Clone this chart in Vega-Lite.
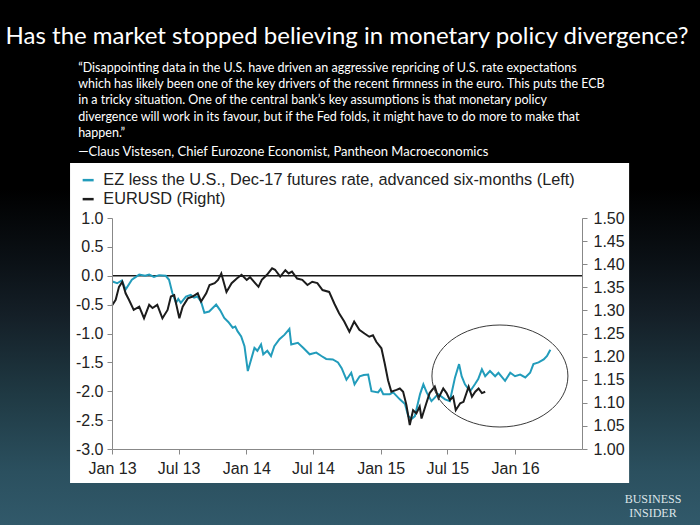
{
  "$schema": "https://vega.github.io/schema/vega-lite/v6.json",
  "width": 470,
  "height": 231,
  "autosize": {"type": "none"},
  "padding": {"left": 112, "top": 218, "right": 118, "bottom": 76},
  "background": "#000000",
  "title": {
    "text": "Has the market stopped believing in monetary policy divergence?",
    "color": "#ffffff",
    "font": "Lato",
    "fontSize": 24,
    "fontWeight": "normal",
    "anchor": "middle",
    "frame": "group",
    "baseline": "middle",
    "offset": -61,
    "zindex": 1
  },
  "data": {"values": [{}]},
  "datasets": {
    "ez": [
      {"date": "2013-01-02", "value": -0.10},
      {"date": "2013-01-15", "value": -0.13},
      {"date": "2013-01-28", "value": -0.08},
      {"date": "2013-02-07", "value": -0.24},
      {"date": "2013-02-24", "value": -0.07},
      {"date": "2013-03-16", "value": 0.02},
      {"date": "2013-04-01", "value": 0.00},
      {"date": "2013-04-12", "value": 0.02},
      {"date": "2013-04-25", "value": -0.02},
      {"date": "2013-05-09", "value": 0.01},
      {"date": "2013-05-27", "value": 0.00},
      {"date": "2013-06-05", "value": -0.07},
      {"date": "2013-06-14", "value": -0.30},
      {"date": "2013-06-24", "value": -0.47},
      {"date": "2013-06-30", "value": -0.40},
      {"date": "2013-07-07", "value": -0.47},
      {"date": "2013-07-21", "value": -0.36},
      {"date": "2013-08-03", "value": -0.33},
      {"date": "2013-08-12", "value": -0.38},
      {"date": "2013-08-21", "value": -0.36},
      {"date": "2013-08-31", "value": -0.45},
      {"date": "2013-09-09", "value": -0.64},
      {"date": "2013-09-22", "value": -0.62},
      {"date": "2013-10-11", "value": -0.50},
      {"date": "2013-10-22", "value": -0.60},
      {"date": "2013-11-02", "value": -0.73},
      {"date": "2013-11-13", "value": -0.80},
      {"date": "2013-11-25", "value": -0.90},
      {"date": "2013-12-02", "value": -0.88},
      {"date": "2013-12-08", "value": -0.96},
      {"date": "2013-12-18", "value": -1.05},
      {"date": "2013-12-27", "value": -1.22},
      {"date": "2014-01-05", "value": -1.65},
      {"date": "2014-01-14", "value": -1.45},
      {"date": "2014-01-23", "value": -1.25},
      {"date": "2014-01-31", "value": -1.30},
      {"date": "2014-02-10", "value": -1.19},
      {"date": "2014-02-16", "value": -1.36},
      {"date": "2014-02-27", "value": -1.30},
      {"date": "2014-03-09", "value": -1.39},
      {"date": "2014-03-18", "value": -1.22},
      {"date": "2014-04-01", "value": -1.10},
      {"date": "2014-04-15", "value": -1.02},
      {"date": "2014-04-28", "value": -0.92},
      {"date": "2014-05-03", "value": -1.19},
      {"date": "2014-05-21", "value": -1.16},
      {"date": "2014-06-05", "value": -1.25},
      {"date": "2014-06-22", "value": -1.36},
      {"date": "2014-07-10", "value": -1.33},
      {"date": "2014-07-24", "value": -1.39},
      {"date": "2014-08-06", "value": -1.44},
      {"date": "2014-08-24", "value": -1.45},
      {"date": "2014-09-07", "value": -1.50},
      {"date": "2014-09-17", "value": -1.60},
      {"date": "2014-09-30", "value": -1.80},
      {"date": "2014-10-13", "value": -1.68},
      {"date": "2014-10-22", "value": -1.88},
      {"date": "2014-11-05", "value": -1.74},
      {"date": "2014-11-16", "value": -1.72},
      {"date": "2014-11-28", "value": -1.71},
      {"date": "2014-12-07", "value": -2.00},
      {"date": "2014-12-25", "value": -2.02},
      {"date": "2015-01-01", "value": -1.96},
      {"date": "2015-01-08", "value": -2.05},
      {"date": "2015-01-26", "value": -2.05},
      {"date": "2015-02-04", "value": -2.02},
      {"date": "2015-02-22", "value": -2.14},
      {"date": "2015-03-08", "value": -2.22},
      {"date": "2015-03-17", "value": -2.43},
      {"date": "2015-03-26", "value": -2.48},
      {"date": "2015-04-04", "value": -2.43},
      {"date": "2015-04-18", "value": -2.05},
      {"date": "2015-04-27", "value": -1.88},
      {"date": "2015-05-06", "value": -2.02},
      {"date": "2015-05-19", "value": -2.17},
      {"date": "2015-06-06", "value": -2.05},
      {"date": "2015-06-25", "value": -2.14},
      {"date": "2015-07-08", "value": -2.17},
      {"date": "2015-07-22", "value": -1.76},
      {"date": "2015-08-02", "value": -1.53},
      {"date": "2015-08-09", "value": -1.74},
      {"date": "2015-08-18", "value": -1.88},
      {"date": "2015-09-01", "value": -2.00},
      {"date": "2015-09-14", "value": -1.88},
      {"date": "2015-09-23", "value": -1.79},
      {"date": "2015-10-03", "value": -1.62},
      {"date": "2015-10-12", "value": -1.74},
      {"date": "2015-10-25", "value": -1.65},
      {"date": "2015-11-08", "value": -1.74},
      {"date": "2015-11-17", "value": -1.68},
      {"date": "2015-12-05", "value": -1.82},
      {"date": "2015-12-19", "value": -1.68},
      {"date": "2016-01-01", "value": -1.74},
      {"date": "2016-01-15", "value": -1.71},
      {"date": "2016-01-29", "value": -1.76},
      {"date": "2016-02-11", "value": -1.68},
      {"date": "2016-02-20", "value": -1.53},
      {"date": "2016-03-05", "value": -1.50},
      {"date": "2016-03-19", "value": -1.45},
      {"date": "2016-03-28", "value": -1.39},
      {"date": "2016-04-06", "value": -1.28}
    ],
    "eurusd": [
      {"date": "2013-01-02", "value": 1.312},
      {"date": "2013-01-11", "value": 1.323},
      {"date": "2013-01-20", "value": 1.351},
      {"date": "2013-01-29", "value": 1.362},
      {"date": "2013-02-07", "value": 1.337},
      {"date": "2013-02-16", "value": 1.323},
      {"date": "2013-03-01", "value": 1.301},
      {"date": "2013-03-16", "value": 1.308},
      {"date": "2013-03-29", "value": 1.283},
      {"date": "2013-04-12", "value": 1.312},
      {"date": "2013-04-21", "value": 1.305},
      {"date": "2013-05-04", "value": 1.312},
      {"date": "2013-05-18", "value": 1.283},
      {"date": "2013-06-01", "value": 1.301},
      {"date": "2013-06-10", "value": 1.330},
      {"date": "2013-06-19", "value": 1.333},
      {"date": "2013-07-03", "value": 1.283},
      {"date": "2013-07-12", "value": 1.308},
      {"date": "2013-07-26", "value": 1.326},
      {"date": "2013-08-08", "value": 1.330},
      {"date": "2013-08-22", "value": 1.337},
      {"date": "2013-08-31", "value": 1.319},
      {"date": "2013-09-14", "value": 1.337},
      {"date": "2013-09-23", "value": 1.355},
      {"date": "2013-10-07", "value": 1.359},
      {"date": "2013-10-16", "value": 1.366},
      {"date": "2013-10-25", "value": 1.380},
      {"date": "2013-11-08", "value": 1.340},
      {"date": "2013-11-22", "value": 1.359},
      {"date": "2013-12-06", "value": 1.369},
      {"date": "2013-12-19", "value": 1.377},
      {"date": "2014-01-02", "value": 1.366},
      {"date": "2014-01-11", "value": 1.372},
      {"date": "2014-01-25", "value": 1.359},
      {"date": "2014-02-03", "value": 1.351},
      {"date": "2014-02-12", "value": 1.366},
      {"date": "2014-02-26", "value": 1.377},
      {"date": "2014-03-12", "value": 1.391},
      {"date": "2014-03-20", "value": 1.388},
      {"date": "2014-04-03", "value": 1.373},
      {"date": "2014-04-17", "value": 1.387},
      {"date": "2014-04-26", "value": 1.380},
      {"date": "2014-05-05", "value": 1.384},
      {"date": "2014-05-19", "value": 1.369},
      {"date": "2014-06-02", "value": 1.366},
      {"date": "2014-06-16", "value": 1.355},
      {"date": "2014-06-29", "value": 1.362},
      {"date": "2014-07-13", "value": 1.359},
      {"date": "2014-07-27", "value": 1.344},
      {"date": "2014-08-14", "value": 1.340},
      {"date": "2014-08-28", "value": 1.315},
      {"date": "2014-09-10", "value": 1.294},
      {"date": "2014-09-24", "value": 1.276},
      {"date": "2014-10-08", "value": 1.254},
      {"date": "2014-10-21", "value": 1.276},
      {"date": "2014-11-04", "value": 1.258},
      {"date": "2014-11-18", "value": 1.250},
      {"date": "2014-12-01", "value": 1.243},
      {"date": "2014-12-11", "value": 1.246},
      {"date": "2014-12-20", "value": 1.232},
      {"date": "2015-01-03", "value": 1.218},
      {"date": "2015-01-12", "value": 1.185},
      {"date": "2015-01-21", "value": 1.149},
      {"date": "2015-01-30", "value": 1.124},
      {"date": "2015-02-13", "value": 1.128},
      {"date": "2015-02-22", "value": 1.131},
      {"date": "2015-03-03", "value": 1.124},
      {"date": "2015-03-12", "value": 1.095},
      {"date": "2015-03-21", "value": 1.052},
      {"date": "2015-03-30", "value": 1.084},
      {"date": "2015-04-08", "value": 1.077},
      {"date": "2015-04-17", "value": 1.092},
      {"date": "2015-04-22", "value": 1.066},
      {"date": "2015-05-05", "value": 1.099},
      {"date": "2015-05-14", "value": 1.121},
      {"date": "2015-05-28", "value": 1.135},
      {"date": "2015-06-07", "value": 1.110},
      {"date": "2015-06-20", "value": 1.131},
      {"date": "2015-06-29", "value": 1.121},
      {"date": "2015-07-08", "value": 1.106},
      {"date": "2015-07-17", "value": 1.113},
      {"date": "2015-07-24", "value": 1.084},
      {"date": "2015-08-05", "value": 1.099},
      {"date": "2015-08-14", "value": 1.102},
      {"date": "2015-08-28", "value": 1.135},
      {"date": "2015-09-06", "value": 1.113},
      {"date": "2015-09-15", "value": 1.124},
      {"date": "2015-09-24", "value": 1.131},
      {"date": "2015-10-03", "value": 1.121},
      {"date": "2015-10-12", "value": 1.124}
    ]
  },
  "layer": [
    {
      "mark": {"type": "rect", "fill": {"gradient": "linear", "x1": 0, "y1": 0, "x2": 0, "y2": 1, "stops": [
        {"offset": 0, "color": "#000000"},
        {"offset": 0.36, "color": "#000000"},
        {"offset": 0.5, "color": "#0b1116"},
        {"offset": 0.6, "color": "#141f27"},
        {"offset": 0.75, "color": "#1f3943"},
        {"offset": 0.9, "color": "#2b505f"},
        {"offset": 1, "color": "#31596a"}
      ]}},
      "encoding": {
        "x": {"datum": 1262304000000, "type": "temporal", "scale": {"type": "utc", "domain": [1356998400000, 1467331200000]}, "axis": {"title": null}},
        "x2": {"datum": 1577836800000},
        "y": {"datum": 4.775, "type": "quantitative", "scale": {"domain": [-3, 1], "nice": false, "zero": false}, "axis": null},
        "y2": {"datum": -4.316}
      }
    },
    {
      "mark": {"type": "rect", "fill": "#ffffff"},
      "encoding": {
        "x": {"datum": 1347148800000, "type": "temporal", "scale": {"type": "utc", "domain": [1356998400000, 1467331200000]}, "axis": {"title": null}},
        "x2": {"datum": 1478390400000},
        "y": {"datum": 1.952, "type": "quantitative", "scale": {"domain": [-3, 1], "nice": false, "zero": false}, "axis": null},
        "y2": {"datum": -3.589}
      }
    },
    {
      "mark": {"type": "rule", "color": "#1a1a1a", "strokeWidth": 1.5},
      "encoding": {
        "y": {"datum": 0, "type": "quantitative", "scale": {"domain": [-3, 1], "nice": false, "zero": false}, "axis": null}
      }
    },
    {
      "data": {"name": "ez"},
      "mark": {"type": "line", "strokeWidth": 2, "interpolate": "linear"},
      "encoding": {
        "x": {"field": "date", "type": "temporal",
          "scale": {"type": "utc", "domain": [1356998400000, 1467331200000]},
          "axis": {
            "title": null,
            "zindex": 2,
            "values": [1356998400000, 1364774400000, 1372636800000, 1380585600000, 1388534400000, 1396310400000, 1404172800000, 1412121600000, 1420070400000, 1427846400000, 1435708800000, 1443657600000, 1451606400000, 1459468800000],
            "labelExpr": "(utcmonth(datum.value) == 0 || utcmonth(datum.value) == 6) ? utcFormat(datum.value, '%b %y') : ''",
            "labelPadding": 6,
            "labelFlush": false,
            "labelOverlap": false
          }
        },
        "y": {"field": "value", "type": "quantitative",
          "scale": {"domain": [-3, 1], "nice": false, "zero": false},
          "axis": {"orient": "left", "title": null, "zindex": 2, "values": [-3, -2.5, -2, -1.5, -1, -0.5, 0, 0.5, 1], "format": ".1f", "labelPadding": 4}
        },
        "color": {"datum": "EZ less the U.S., Dec-17 futures rate, advanced six-months (Left)",
          "scale": {"domain": ["EZ less the U.S., Dec-17 futures rate, advanced six-months (Left)", "EURUSD (Right)"], "range": ["#229cbb", "#1c1c1c"]},
          "legend": {"orient": "none", "legendX": -32, "legendY": -46, "title": null, "labelFont": "Liberation Sans", "labelFontSize": 16.3, "labelColor": "#222222", "symbolType": "stroke", "symbolSize": 121, "symbolStrokeWidth": 2.5, "rowPadding": 2, "labelOffset": 7, "labelLimit": 700, "padding": 0, "zindex": 2}
        }
      }
    },
    {
      "data": {"name": "eurusd"},
      "mark": {"type": "line", "strokeWidth": 2, "interpolate": "linear"},
      "encoding": {
        "x": {"field": "date", "type": "temporal", "scale": {"type": "utc", "domain": [1356998400000, 1467331200000]}, "axis": {"title": null}},
        "y": {"field": "value", "type": "quantitative",
          "scale": {"domain": [1.0, 1.5], "nice": false, "zero": false},
          "axis": {"orient": "right", "title": null, "zindex": 2, "values": [1.0, 1.05, 1.1, 1.15, 1.2, 1.25, 1.3, 1.35, 1.4, 1.45, 1.5], "format": ".2f", "labelPadding": 6}
        },
        "color": {"datum": "EURUSD (Right)"}
      }
    },
    {
      "mark": {"type": "point", "shape": "M -1 0 C -1 -0.4142 -0.5523 -0.75 0 -0.75 C 0.5523 -0.75 1 -0.4142 1 0 C 1 0.4142 0.5523 0.75 0 0.75 C -0.5523 0.75 -1 0.4142 -1 0 Z", "size": 18496, "filled": false, "stroke": "#3a3a3a", "strokeWidth": 1, "opacity": 1},
      "encoding": {
        "x": {"datum": 1448064000000, "type": "temporal", "scale": {"type": "utc", "domain": [1356998400000, 1467331200000]}, "axis": {"title": null}},
        "y": {"datum": -1.736, "type": "quantitative", "scale": {"domain": [-3, 1], "nice": false, "zero": false}, "axis": null}
      }
    },
    {
      "mark": {"type": "text", "align": "left", "baseline": "middle", "font": "Lato", "fontSize": 12.5, "lineHeight": 16.2, "color": "#ffffff"},
      "encoding": {
        "x": {"datum": 1349049600000, "type": "temporal", "scale": {"type": "utc", "domain": [1356998400000, 1467331200000]}, "axis": {"title": null}},
        "y": {"datum": 3.597, "type": "quantitative", "scale": {"domain": [-3, 1], "nice": false, "zero": false}, "axis": null},
        "text": {"value": [
          "“Disappointing data in the U.S. have driven an aggressive repricing of U.S. rate expectations",
          "which has likely been one of the key drivers of the recent firmness in the euro. This puts the ECB",
          "in a tricky situation. One of the central bank’s key assumptions is that monetary policy",
          "divergence will work in its favour, but if the Fed folds, it might have to do more to make that",
          "happen.”"
        ]}
      }
    },
    {
      "mark": {"type": "text", "align": "left", "baseline": "middle", "font": "Lato", "fontSize": 13, "color": "#ffffff"},
      "encoding": {
        "x": {"datum": 1349049600000, "type": "temporal", "scale": {"type": "utc", "domain": [1356998400000, 1467331200000]}, "axis": {"title": null}},
        "y": {"datum": 2.143, "type": "quantitative", "scale": {"domain": [-3, 1], "nice": false, "zero": false}, "axis": null},
        "text": {"value": "—Claus Vistesen, Chief Eurozone Economist, Pantheon Macroeconomics"}
      }
    },
    {
      "mark": {"type": "text", "align": "center", "baseline": "middle", "font": "Liberation Serif", "fontSize": 12, "lineHeight": 13.5, "color": "#dde5e9", "letterSpacing": 0.5},
      "encoding": {
        "x": {"datum": 1484006400000, "type": "temporal", "scale": {"type": "utc", "domain": [1356998400000, 1467331200000]}, "axis": {"title": null}},
        "y": {"datum": -3.866, "type": "quantitative", "scale": {"domain": [-3, 1], "nice": false, "zero": false}, "axis": null},
        "text": {"value": ["BUSINESS", "INSIDER"]}
      }
    }
  ],
  "resolve": {"scale": {"y": "independent"}},
  "config": {
    "view": {"stroke": null},
    "locale": {"number": {"decimal": ".", "thousands": ",", "grouping": [3], "currency": ["$", ""], "minus": "-"}},
    "axis": {
      "domainColor": "#888888",
      "tickColor": "#888888",
      "tickSize": 5,
      "labelFont": "Liberation Sans",
      "labelFontSize": 16,
      "labelColor": "#222222",
      "grid": false
    }
  }
}
